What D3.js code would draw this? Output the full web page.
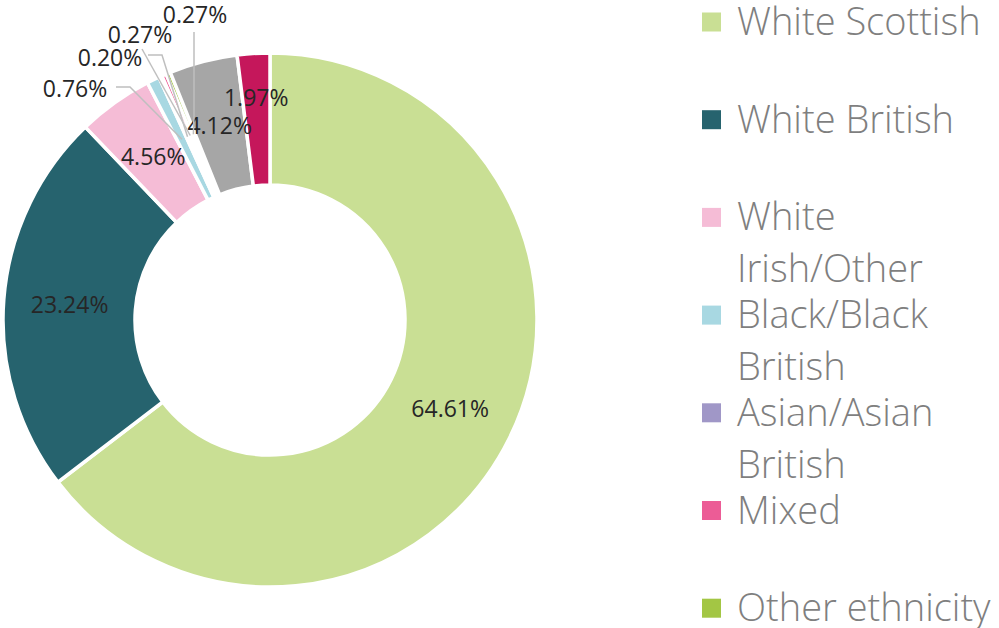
<!DOCTYPE html>
<html>
<head>
<meta charset="utf-8">
<script src="https://cdn.jsdelivr.net/npm/d3@7"></script>
<style>
    body { margin: 0; background: #fff; }
</style>
</head>
<body>
<div id="chart"></div>
<script>
var categories = ['White Scottish', 'White British', 'White Irish/Other', 'Black/Black British',
    'Asian/Asian British', 'Mixed', 'Other ethnicity', 'Not known', 'Prefer not to say'];
var values = [64.61, 23.24, 4.56, 0.76, 0.20, 0.27, 0.27, 4.12, 1.97];
var colors = ['#c9df94', '#26636e', '#f5bcd6', '#a8d8e2', '#a097c7', '#ec5c96', '#a3c644', '#a6a6a6', '#c5175b'];

var width = 999, height = 628;
var cx = 270, cy = 320, outerR = 267, innerR = 135;

// where the small outside labels sit, and the bend of their leader lines
var outside = {
    3: { text: [75, 97], line: [[116, 87], [130, 87]] },
    4: { text: [110, 66], line: [[148, 55], [162, 55]] },
    5: { text: [140, 43], line: [[142, 49]] },
    6: { text: [195, 23], line: [[194, 32], [194, 115]] }
};

var svg = d3.select('#chart')
    .append('svg')
    .attr('width', width)
    .attr('height', height);

var color = d3.scaleOrdinal().domain(categories).range(colors);

var pie = d3.pie().sort(null).value(d => d.value);
var arcs = pie(categories.map((c, i) => ({ name: c, value: values[i], i: i })));

var arc = d3.arc().innerRadius(innerR).outerRadius(outerR);
var mid = d3.arc().innerRadius((innerR + outerR) / 2).outerRadius((innerR + outerR) / 2);

var g = svg.append('g').attr('transform', `translate(${cx},${cy})`);

g.selectAll('path.slice')
    .data(arcs)
    .enter()
    .append('path')
    .attr('class', 'slice')
    .attr('d', arc)
    .attr('fill', d => color(d.data.name))
    .attr('stroke', '#fff')
    .attr('stroke-width', 3.5);

var fmt = v => v.toFixed(2) + '%';

// labels inside the ring
arcs.forEach(d => {
    if (outside[d.data.i]) return;
    var p = mid.centroid(d);
    if (d.data.i === 8) {
        var a = (d.startAngle + d.endAngle) / 2;
        p = [223 * Math.sin(a), -223 * Math.cos(a)];
    }
    g.append('text')
        .attr('x', p[0])
        .attr('y', p[1])
        .attr('dy', '0.36em')
        .attr('text-anchor', 'middle')
        .style('font-family', '"Open Sans", sans-serif')
        .style('font-size', '23px')
        .attr('fill', '#262626')
        .text(fmt(d.data.value));
});

// leader lines and outside labels
var lineGen = d3.line();
arcs.forEach(d => {
    var o = outside[d.data.i];
    if (!o) return;
    var c = mid.centroid(d);
    var pts = o.line.concat([[c[0] + cx, c[1] + cy]]);
    svg.append('path')
        .attr('d', lineGen(pts))
        .attr('fill', 'none')
        .attr('stroke', '#bfbfbf')
        .attr('stroke-width', 1.5);
    svg.append('text')
        .attr('x', o.text[0])
        .attr('y', o.text[1])
        .attr('text-anchor', 'middle')
        .style('font-family', '"Open Sans", sans-serif')
        .style('font-size', '23px')
        .attr('fill', '#262626')
        .text(fmt(d.data.value));
});

// legend
var legend = svg.append('g').attr('transform', 'translate(702,0)');
var slot = 97.7;
var maxW = 268;

categories.forEach((name, i) => {
    var y = 22 + i * slot;
    var item = legend.append('g');
    item.append('rect')
        .attr('x', 0)
        .attr('y', y - 9.5)
        .attr('width', 19)
        .attr('height', 19)
        .attr('fill', color(name));
    var t = item.append('text')
        .attr('x', 35)
        .attr('y', y + 13)
        .style('font-family', '"Open Sans", sans-serif')
        .style('font-size', '38px')
        .style('font-weight', 300)
        .attr('fill', '#7f7f7f');
    var words = name.split(' ');
    var line = [];
    var tspan = t.append('tspan').attr('x', 35);
    words.forEach(w => {
        line.push(w);
        tspan.text(line.join(' '));
        if (tspan.node().getComputedTextLength() > maxW && line.length > 1) {
            line.pop();
            tspan.text(line.join(' '));
            line = [w];
            tspan = t.append('tspan').attr('x', 35).attr('dy', 52).text(w);
        }
    });
});
</script>
</body>
</html>
